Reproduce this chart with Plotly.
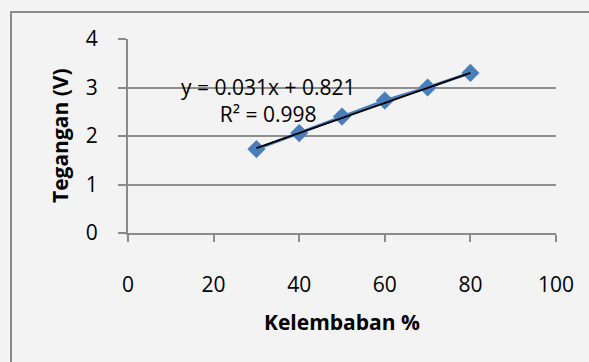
import plotly.graph_objects as go
import numpy as np

# Data
kelembaban = [30, 40, 50, 60, 70, 80]
tegangan = [1.73, 2.06, 2.40, 2.73, 3.00, 3.30]
slope = 0.031
intercept = 0.821
x_ticks = [0, 20, 40, 60, 80, 100]
y_ticks = [0, 1, 2, 3, 4]
eq_text = "y = 0.031x + 0.821"
r2_text = "R² = 0.998"

FONT = "Open Sans"
W, H = 589, 362
L, R, T, B = 128, 33, 39, 129
pw = W - L - R
ph = H - T - B

trend_x = np.array([min(kelembaban), max(kelembaban)])
trend_y = slope * trend_x + intercept

fig = go.Figure()
fig.add_trace(go.Scatter(
    x=kelembaban, y=tegangan, mode="lines+markers",
    line=dict(color="#4a7ebb", width=3),
    marker=dict(symbol="diamond", size=14, color="#4a7ebb"),
    showlegend=False, hoverinfo="skip"))
fig.add_trace(go.Scatter(
    x=trend_x, y=trend_y, mode="lines",
    line=dict(color="black", width=1.8),
    showlegend=False, hoverinfo="skip"))

def px_x(p):
    return (p - L) / pw

def px_y(p):
    return (H - B - p) / ph

fig.update_layout(
    width=W, height=H,
    margin=dict(l=L, r=R, t=T, b=B, pad=0),
    paper_bgcolor="#f3f3f3", plot_bgcolor="rgba(0,0,0,0)",
    font=dict(family=FONT, size=21, color="black"),
    xaxis=dict(range=[0, 100], tickvals=x_ticks, showgrid=False, zeroline=False,
               showline=True, linecolor="#8a8a8a", linewidth=2,
               ticks="outside", ticklen=7, tickwidth=2, tickcolor="#8a8a8a",
               ticklabelstandoff=25, tickfont=dict(size=21)),
    yaxis=dict(range=[0, 4], tickvals=y_ticks, showgrid=True, gridcolor="#8f8f8f",
               gridwidth=2, zeroline=False,
               showline=True, linecolor="#8a8a8a", linewidth=2,
               ticks="outside", ticklen=8, tickwidth=2, tickcolor="#8a8a8a",
               ticklabelstandoff=16, tickfont=dict(size=21)),
    shapes=[dict(type="rect", xref="paper", yref="paper",
                 x0=px_x(11), x1=px_x(W + 20), y0=px_y(H + 20), y1=px_y(12),
                 line=dict(color="#8a8a8a", width=2), fillcolor="rgba(0,0,0,0)",
                 layer="below")],
    annotations=[
        dict(text="<b>Kelembaban %</b>", xref="paper", yref="paper",
             x=0.5, y=px_y(322), showarrow=False, font=dict(size=21),
             xanchor="center", yanchor="middle"),
        dict(text="<b>Tegangan (V)</b>", xref="paper", yref="paper",
             x=px_x(60), y=0.5, showarrow=False, font=dict(size=21), textangle=-90,
             xanchor="center", yanchor="middle"),
        dict(text=eq_text + "<br>" + r2_text, xref="x", yref="y", x=32.7, y=2.73,
             showarrow=False, font=dict(size=21), align="center",
             xanchor="center", yanchor="middle"),
    ],
)

fig.write_html("out.html",
               config={"displayModeBar": False},
               post_script="document.body.style.margin='0';document.body.style.background='#f3f3f3';")
